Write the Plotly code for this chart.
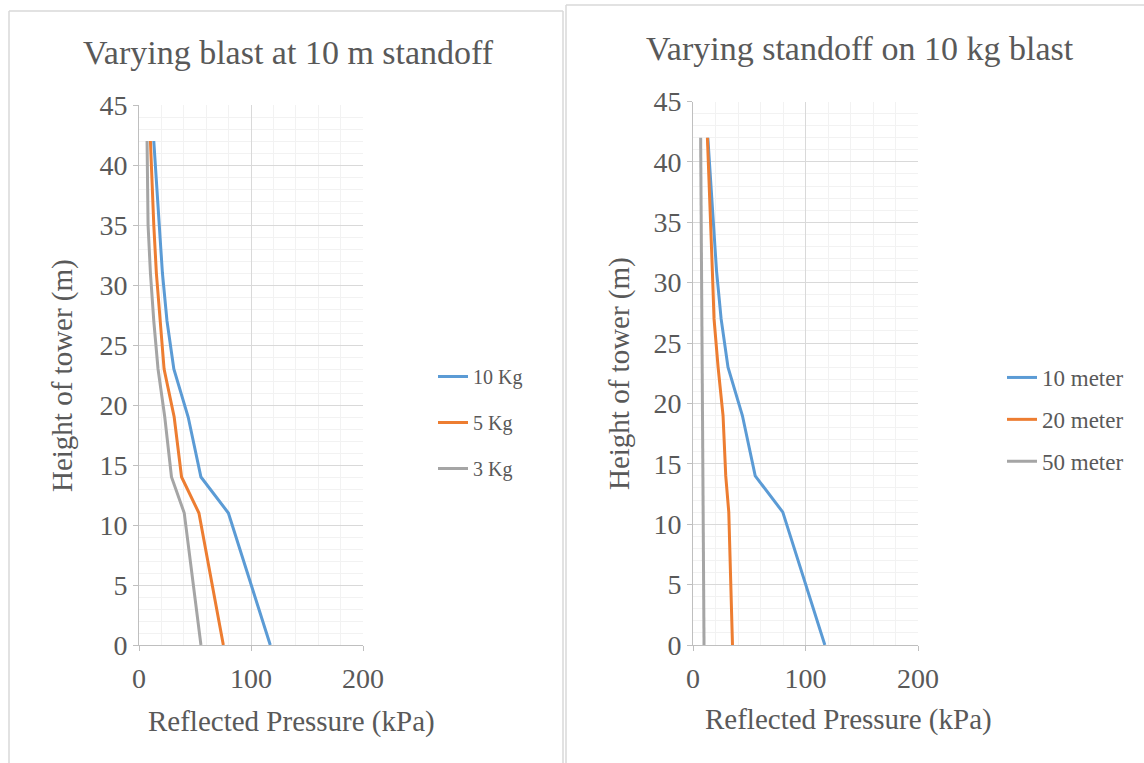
import plotly.graph_objects as go

# ---- data ----
heights = [0, 11, 14, 19, 23, 27, 31, 35, 42]

left_names = ["10 Kg", "5 Kg", "3 Kg"]
left_10kg = [117.2, 79.8, 55.3, 43.9, 31.1, 25.0, 20.9, 17.9, 13.2]
left_5kg = [75.3, 53.5, 38.0, 31.4, 22.4, 19.1, 15.5, 13.2, 10.2]
left_3kg = [55.3, 40.4, 29.0, 23.0, 17.0, 13.2, 10.2, 8.1, 7.2]

right_names = ["10 meter", "20 meter", "50 meter"]
right_10m = [117.2, 79.8, 55.3, 43.9, 31.1, 25.0, 20.9, 17.9, 13.2]
right_20m = [35.1, 31.8, 29.1, 26.7, 22.3, 18.7, 17.2, 15.7, 12.8]
right_50m = [9.8, 9.1, 8.9, 8.5, 8.2, 7.9, 7.6, 7.3, 6.8]

titles = ["Varying blast at 10 m standoff", "Varying standoff on 10 kg blast"]
x_title = "Reflected Pressure (kPa)"
y_title = "Height of tower (m)"

colors = ["#5B9BD5", "#ED7D31", "#A5A5A5"]
FONT = "Liberation Serif, Times New Roman, serif"
TXT = "#595959"
W, H = 1144, 763

fig = go.Figure()

for i, (name, vals) in enumerate(zip(left_names, [left_10kg, left_5kg, left_3kg])):
    fig.add_trace(go.Scatter(x=vals, y=heights, mode="lines", name=name,
                             line=dict(color=colors[i], width=3),
                             xaxis="x", yaxis="y", legend="legend",
                             legendgroup="l%d" % i))
for i, (name, vals) in enumerate(zip(right_names, [right_10m, right_20m, right_50m])):
    fig.add_trace(go.Scatter(x=vals, y=heights, mode="lines", name=name,
                             line=dict(color=colors[i], width=3),
                             xaxis="x2", yaxis="y2", legend="legend2",
                             legendgroup="r%d" % i))

def px_x(p):
    return p / W

def px_y(p):
    return 1 - p / H

xax = dict(range=[0, 200], dtick=100, tick0=0, showgrid=True, gridcolor="#d9d9d9",
           gridwidth=1, showline=True, linecolor="#bfbfbf", linewidth=1,
           ticks="outside", ticklen=5, tickcolor="#bfbfbf", automargin=False,
           ticklabelstandoff=3,
           tickfont=dict(family=FONT, size=28, color=TXT), zeroline=False,
           minor=dict(dtick=20, showgrid=True, gridcolor="#f2f2f2", gridwidth=1, ticks=""),
           fixedrange=True)
yax = dict(range=[0, 45], dtick=5, tick0=0, showgrid=True, gridcolor="#d9d9d9",
           gridwidth=1, showline=True, linecolor="#bfbfbf", linewidth=1,
           ticks="outside", ticklen=5, tickcolor="#bfbfbf", automargin=False,
           tickfont=dict(family=FONT, size=28, color=TXT), zeroline=False,
           minor=dict(dtick=1, showgrid=True, gridcolor="#f2f2f2", gridwidth=1, ticks=""),
           fixedrange=True)

border = dict(color="#d9d9d9", width=1.5)

def vline(px, top):
    return dict(type="line", xref="paper", yref="paper", x0=px_x(px), x1=px_x(px),
                y0=0, y1=px_y(top), line=border)

def hline(px0, px1, top):
    return dict(type="line", xref="paper", yref="paper", x0=px_x(px0), x1=px_x(px1),
                y0=px_y(top), y1=px_y(top), line=border)

fig.update_layout(
    width=W, height=H, autosize=False,
    margin=dict(l=0, r=0, t=0, b=0, pad=0, autoexpand=False),
    paper_bgcolor="white", plot_bgcolor="white",
    font=dict(family=FONT, color=TXT),
    xaxis=dict(xax, domain=[px_x(139), px_x(363)], anchor="y"),
    yaxis=dict(yax, domain=[px_y(645), px_y(105)], anchor="x"),
    xaxis2=dict(xax, domain=[px_x(693), px_x(918)], anchor="y2"),
    yaxis2=dict(yax, domain=[px_y(645), px_y(101.5)], anchor="x2"),
    legend=dict(x=px_x(433), y=px_y(357), xanchor="left", yanchor="top",
                font=dict(family=FONT, size=20, color=TXT),
                traceorder="grouped", tracegroupgap=17, bgcolor="rgba(0,0,0,0)"),
    legend2=dict(x=px_x(1002), y=px_y(356), xanchor="left", yanchor="top",
                 font=dict(family=FONT, size=23, color=TXT),
                 traceorder="grouped", tracegroupgap=9, bgcolor="rgba(0,0,0,0)"),
    shapes=[
        vline(9, 11), vline(563, 11), hline(9, 563, 11),
        vline(566, 5), hline(566, 1144, 5),
    ],
    annotations=[
        dict(text=titles[0], x=px_x(288), y=px_y(52), xref="paper", yref="paper",
             showarrow=False, font=dict(family=FONT, size=34, color=TXT),
             xanchor="center", yanchor="middle"),
        dict(text=titles[1], x=px_x(860), y=px_y(48), xref="paper", yref="paper",
             showarrow=False, font=dict(family=FONT, size=34, color=TXT),
             xanchor="center", yanchor="middle"),
        dict(text=x_title, x=px_x(291), y=px_y(721), xref="paper", yref="paper",
             showarrow=False, font=dict(family=FONT, size=29, color=TXT),
             xanchor="center", yanchor="middle"),
        dict(text=x_title, x=px_x(848), y=px_y(719), xref="paper", yref="paper",
             showarrow=False, font=dict(family=FONT, size=29, color=TXT),
             xanchor="center", yanchor="middle"),
        dict(text=y_title, x=px_x(62), y=px_y(375), xref="paper", yref="paper",
             showarrow=False, textangle=-90, font=dict(family=FONT, size=29, color=TXT),
             xanchor="center", yanchor="middle"),
        dict(text=y_title, x=px_x(619), y=px_y(374), xref="paper", yref="paper",
             showarrow=False, textangle=-90, font=dict(family=FONT, size=29, color=TXT),
             xanchor="center", yanchor="middle"),
    ],
)

fig.write_html("out.html")
